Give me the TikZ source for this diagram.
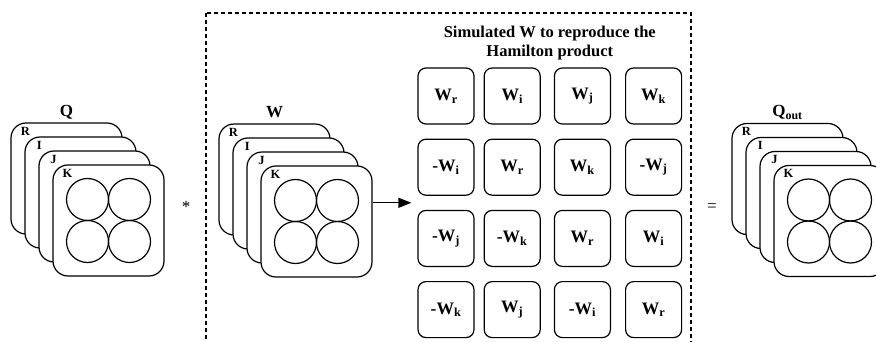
\documentclass[tikz,border=0pt]{standalone}
\usepackage{fontspec}
\setmainfont{Liberation Serif}
\usetikzlibrary{positioning,calc,arrows.meta}

\begin{document}
\begin{tikzpicture}[x=1pt,y=-1pt,font=\bfseries]
    \tikzstyle{card}=[draw, fill=white, line width=1.2pt, rounded corners=15pt, minimum size=111pt, inner sep=0pt]
    \tikzstyle{disc}=[draw, circle, line width=1.2pt, minimum size=42pt, inner sep=0pt]
    \tikzstyle{tag}=[inner sep=0pt, font=\bfseries\fontsize{12.5}{12.5}\selectfont]
    \tikzstyle{stacklabel}=[inner sep=0pt, anchor=base, font=\bfseries\fontsize{17}{19}\selectfont]
    \tikzstyle{caption}=[inner sep=0pt, anchor=south, align=center, font=\bfseries\fontsize{16.5}{19}\selectfont]
    \tikzstyle{cell}=[draw, line width=1.2pt, rounded corners=8pt, minimum size=56pt, inner sep=0pt, font=\bfseries\fontsize{17.5}{17.5}\selectfont]
    \tikzstyle{frame}=[line width=1.2pt, dash pattern=on 4pt off 3pt]
    \tikzstyle{flow}=[line width=1.2pt, -{Triangle[length=13pt,width=10pt]}]
    \useasboundingbox (0,0) rectangle (876,342);
    \clip (0,0) rectangle (876,342);
    \draw[frame] (206,13) rectangle (691,360);
    \foreach \s/\x/\y/\t in {q/66.5/178.5/Q, w/274.5/179.5/W, o/787.5/179/{Q\textsubscript{out}}} {
        \foreach \c [count=\n from 0] in {R,I,J,K} {
            \node[card] (\s\c) at (\x+14*\n,\y+14*\n) {};
            \node[tag] (\s\c-tag) at ([shift={(15,9)}]\s\c.north west) {\c};
        }
        \node[stacklabel] (\s-label) at ([yshift=6pt]\s R.north) {\t};
        \foreach \dx/\dy [count=\m] in {-21/-21,21/-21,-21/21,21/21}
            \node[disc] (\s\m) at ([shift={(\dx,\dy)}]\s K.center) {};
    }
    \node[cell] (m11) at (446,96) {W\textsubscript{r}};
    \node[cell, right=9pt of m11] (m12) {W\textsubscript{i}};
    \node[cell, right=13pt of m12] (m13) {W\textsubscript{j}};
    \node[cell, right=14pt of m13] (m14) {W\textsubscript{k}};
    \node[cell, below=14pt of m11] (m21) {-W\textsubscript{i}};
    \node[cell, below=14pt of m12] (m22) {W\textsubscript{r}};
    \node[cell, below=14pt of m13] (m23) {W\textsubscript{k}};
    \node[cell, below=14pt of m14] (m24) {-W\textsubscript{j}};
    \node[cell, below=14pt of m21] (m31) {-W\textsubscript{j}};
    \node[cell, below=14pt of m22] (m32) {-W\textsubscript{k}};
    \node[cell, below=14pt of m23] (m33) {W\textsubscript{r}};
    \node[cell, below=14pt of m24] (m34) {W\textsubscript{i}};
    \node[cell, below=14pt of m31] (m41) {-W\textsubscript{k}};
    \node[cell, below=14pt of m32] (m42) {W\textsubscript{j}};
    \node[cell, below=14pt of m33] (m43) {-W\textsubscript{i}};
    \node[cell, below=14pt of m34] (m44) {W\textsubscript{r}};
    \node[caption, yshift=7pt] (simw) at ($(m11.north)!0.5!(m14.north)$) {Simulated W to reproduce the\\Hamilton product};
    \coordinate (mid) at ($(m21.south west)!0.5!(m31.north west)$);
    \draw[flow] (wK.east |- mid) -- ([xshift=-6pt]mid);
    \node[font=\fontsize{17}{17}\selectfont] (times) at (186,207) {*};
    \node[font=\fontsize{17}{17}\selectfont] (eq) at (712,208) {=};
\end{tikzpicture}
\end{document}
